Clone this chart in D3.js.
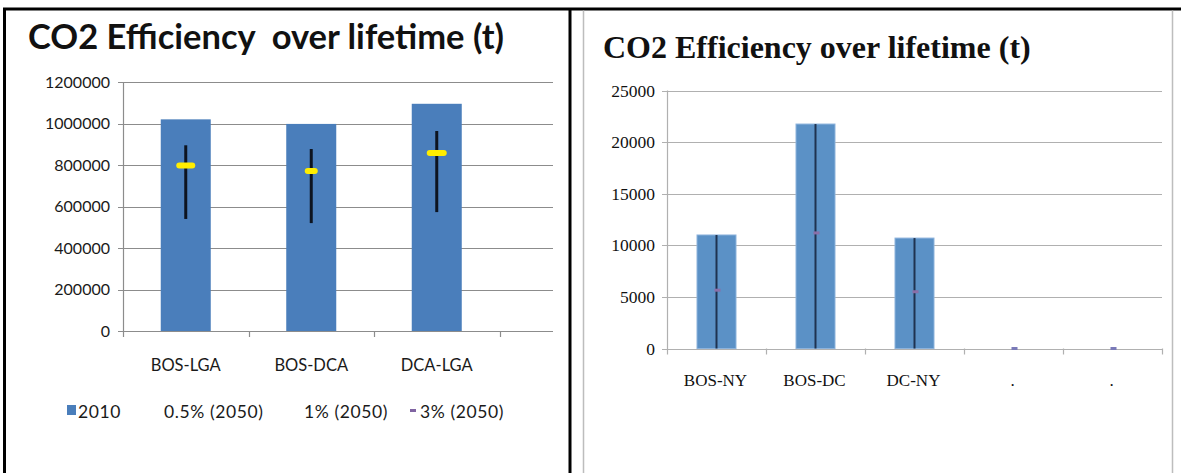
<!DOCTYPE html>
<html>
<head>
<meta charset="utf-8">
<script src="https://cdn.jsdelivr.net/npm/d3@7"></script>
<style>
  body { margin: 0; background: #fff; }
  svg { display: block; }
</style>
</head>
<body>
<svg id="chart"></svg>
<script>
const width = 1181;
const height = 473;

// left chart data (airport pairs)
const leftCategories = ["BOS-LGA", "BOS-DCA", "DCA-LGA", ""];
const left2010 = [1020000, 998000, 1095000];
const leftHigh = [895000, 877000, 964000];
const leftLow = [540000, 520000, 573000];
const leftMid = [797000, 771000, 858000];
const leftTicks = [0, 200000, 400000, 600000, 800000, 1000000, 1200000];
const leftLegend = ["2010", "0.5% (2050)", "1% (2050)", "3% (2050)"];

// right chart data (city pairs)
const rightCategories = ["BOS-NY", "BOS-DC", "DC-NY", ".", "."];
const right2010 = [11000, 21750, 10700, 0, 0];
const rightLine = [11000, 21750, 10700, 0, 0];
const right3 = [5650, 11200, 5500, 0, 0];
const rightTicks = [0, 5000, 10000, 15000, 20000, 25000];

const svg = d3.select("#chart")
  .attr("width", width)
  .attr("height", height);

// table frame
svg.append("line").attr("x1", 3).attr("x2", width).attr("y1", 9).attr("y2", 9)
  .attr("stroke", "#000").attr("stroke-width", 3);
svg.append("line").attr("x1", 4.5).attr("x2", 4.5).attr("y1", 8).attr("y2", height)
  .attr("stroke", "#000").attr("stroke-width", 3);
svg.append("line").attr("x1", 570).attr("x2", 570).attr("y1", 8).attr("y2", height)
  .attr("stroke", "#000").attr("stroke-width", 3);
// right chart border
svg.append("path").attr("d", `M583.5,${height} V10.5 M1172.5,10.5 V${height}`)
  .attr("fill", "none").attr("stroke", "#bdbdbd").attr("stroke-width", 1.5);

// ---------- left chart ----------
const left = svg.append("g");
const lx0 = 123, ly0 = 331, ly1 = 82, lGridEnd = 553;

left.append("text")
  .attr("x", 28).attr("y", 49)
  .attr("font-family", "Lato, 'Open Sans', sans-serif")
  .attr("font-weight", "bold")
  .attr("font-size", 34.5)
  .attr("fill", "#111")
  .style("white-space", "pre")
  .text("CO2 Efficiency  over lifetime (t)");

const ly = d3.scaleLinear().domain([0, 1200000]).range([ly0, ly1]);
const lx = d3.scaleBand().domain(leftCategories).range([lx0, lx0 + 502]).paddingInner(0).paddingOuter(0);

left.selectAll("line.grid")
  .data(leftTicks)
  .enter().append("line")
  .attr("class", "grid")
  .attr("x1", lx0 - 5).attr("x2", lGridEnd)
  .attr("y1", d => Math.round(ly(d)) + 0.5).attr("y2", d => Math.round(ly(d)) + 0.5)
  .attr("stroke", "#8c8c8c").attr("stroke-width", 1.2);

left.append("line")
  .attr("x1", lx0 + 0.5).attr("x2", lx0 + 0.5).attr("y1", ly1).attr("y2", ly0 + 6)
  .attr("stroke", "#8c8c8c").attr("stroke-width", 1.2);

leftCategories.slice(1).forEach(c => {
  left.append("line")
    .attr("x1", Math.round(lx(c)) + 0.5).attr("x2", Math.round(lx(c)) + 0.5)
    .attr("y1", ly0).attr("y2", ly0 + 6)
    .attr("stroke", "#8c8c8c").attr("stroke-width", 1.2);
});

left.selectAll("text.ytick")
  .data(leftTicks)
  .enter().append("text")
  .attr("class", "ytick")
  .attr("x", 110).attr("y", d => ly(d) + 5.5)
  .attr("text-anchor", "end")
  .attr("font-family", "Lato, sans-serif")
  .attr("font-size", 16)
  .attr("fill", "#1a1a1a")
  .text(d => d);

const lBarW = 50;
left.selectAll("rect.bar")
  .data(left2010)
  .enter().append("rect")
  .attr("class", "bar")
  .attr("x", (d, i) => lx(leftCategories[i]) + lx.bandwidth() / 2 - lBarW / 2)
  .attr("y", d => ly(d))
  .attr("width", lBarW)
  .attr("height", d => ly0 - ly(d))
  .attr("fill", "#4a7ebb");

left.selectAll("line.hilo")
  .data(leftHigh)
  .enter().append("line")
  .attr("class", "hilo")
  .attr("x1", (d, i) => lx(leftCategories[i]) + lx.bandwidth() / 2)
  .attr("x2", (d, i) => lx(leftCategories[i]) + lx.bandwidth() / 2)
  .attr("y1", d => ly(d))
  .attr("y2", (d, i) => ly(leftLow[i]))
  .attr("stroke", "#0d1420").attr("stroke-width", 3);

const midW = [19, 13, 20];
left.selectAll("line.mid")
  .data(leftMid)
  .enter().append("line")
  .attr("class", "mid")
  .attr("x1", (d, i) => lx(leftCategories[i]) + lx.bandwidth() / 2 - midW[i] / 2 + 3)
  .attr("x2", (d, i) => lx(leftCategories[i]) + lx.bandwidth() / 2 + midW[i] / 2 - 3)
  .attr("y1", d => ly(d)).attr("y2", d => ly(d))
  .attr("stroke", "#ffee00").attr("stroke-width", 6).attr("stroke-linecap", "round");

left.selectAll("text.xlab")
  .data(leftCategories.filter(c => c))
  .enter().append("text")
  .attr("class", "xlab")
  .attr("x", d => lx(d) + lx.bandwidth() / 2)
  .attr("y", 371)
  .attr("text-anchor", "middle")
  .attr("font-family", "Lato, sans-serif")
  .attr("font-size", 16.5)
  .attr("fill", "#1a1a1a")
  .text(d => d);

// legend
const legX = [78, 164, 304, 420];
const legend = left.append("g");
legend.append("rect").attr("x", 67).attr("y", 405).attr("width", 9).attr("height", 10).attr("fill", "#4a7ebb");
legend.append("rect").attr("x", 410).attr("y", 409).attr("width", 6).attr("height", 3).attr("fill", "#8064a2");
legend.selectAll("text")
  .data(leftLegend)
  .enter().append("text")
  .attr("x", (d, i) => legX[i]).attr("y", 418)
  .attr("font-family", "Lato, sans-serif")
  .attr("font-size", 17.5)
  .attr("letter-spacing", 0.6)
  .attr("fill", "#1a1a1a")
  .text(d => d);

// ---------- right chart ----------
const right = svg.append("g");
const rx0 = 667, rxEnd = 1162, ry0 = 348.5, ry1 = 90.5;

right.append("text")
  .attr("x", 603).attr("y", 58)
  .attr("font-family", "'Liberation Serif', 'DejaVu Serif', serif")
  .attr("font-weight", "bold")
  .attr("font-size", 32)
  .attr("fill", "#111")
  .text("CO2 Efficiency over lifetime (t)");

const ry = d3.scaleLinear().domain([0, 25000]).range([ry0, ry1]);
const rx = d3.scaleBand().domain(d3.range(rightCategories.length)).range([rx0, rxEnd]);

right.selectAll("line.grid")
  .data(rightTicks)
  .enter().append("line")
  .attr("class", "grid")
  .attr("x1", rx0 - 5).attr("x2", rxEnd)
  .attr("y1", d => Math.round(ry(d)) + 0.5).attr("y2", d => Math.round(ry(d)) + 0.5)
  .attr("stroke", "#b0b0b0").attr("stroke-width", 1.2);

right.append("line")
  .attr("x1", rx0 + 0.5).attr("x2", rx0 + 0.5).attr("y1", ry1).attr("y2", ry0 + 6)
  .attr("stroke", "#b0b0b0").attr("stroke-width", 1.2);

d3.range(1, rightCategories.length + 1).forEach(i => {
  const x = i < rightCategories.length ? rx(i) : rxEnd;
  right.append("line")
    .attr("x1", Math.round(x) + 0.5).attr("x2", Math.round(x) + 0.5)
    .attr("y1", ry0).attr("y2", ry0 + 6)
    .attr("stroke", "#b0b0b0").attr("stroke-width", 1.2);
});

right.selectAll("text.ytick")
  .data(rightTicks)
  .enter().append("text")
  .attr("class", "ytick")
  .attr("x", 655).attr("y", d => ry(d) + 6)
  .attr("text-anchor", "end")
  .attr("font-family", "'Liberation Serif', serif")
  .attr("font-size", 17.5)
  .attr("fill", "#111")
  .text(d => d);

const rBarW = 39;
right.selectAll("rect.bar")
  .data(right2010)
  .enter().append("rect")
  .attr("class", "bar")
  .attr("x", (d, i) => rx(i) + rx.bandwidth() / 2 - rBarW / 2)
  .attr("y", d => ry(d))
  .attr("width", rBarW)
  .attr("height", d => ry0 - ry(d))
  .attr("fill", "#5b91c6")
  .attr("stroke", d => d > 0 ? "#8db3dc" : "none")
  .attr("stroke-width", 1);

right.selectAll("line.hilo")
  .data(rightLine)
  .enter().append("line")
  .attr("class", "hilo")
  .attr("x1", (d, i) => rx(i) + rx.bandwidth() / 2)
  .attr("x2", (d, i) => rx(i) + rx.bandwidth() / 2)
  .attr("y1", d => ry(d)).attr("y2", ry0)
  .attr("stroke", "#1f3250").attr("stroke-width", 2);

right.selectAll("rect.m3")
  .data(right3)
  .enter().append("rect")
  .attr("class", "m3")
  .attr("x", (d, i) => rx(i) + rx.bandwidth() / 2 - 2)
  .attr("y", d => ry(d) - 1.5)
  .attr("width", 6).attr("height", 3)
  .attr("fill", (d, i) => right2010[i] > 0 ? "#8a6fa8" : "#7a7ab8");

right.selectAll("text.xlab")
  .data(rightCategories)
  .enter().append("text")
  .attr("class", "xlab")
  .attr("x", (d, i) => rx(i) + rx.bandwidth() / 2 - 1)
  .attr("y", 386)
  .attr("text-anchor", "middle")
  .attr("font-family", "'Liberation Serif', serif")
  .attr("font-size", 17)
  .attr("fill", "#111")
  .text(d => d);
</script>
</body>
</html>
